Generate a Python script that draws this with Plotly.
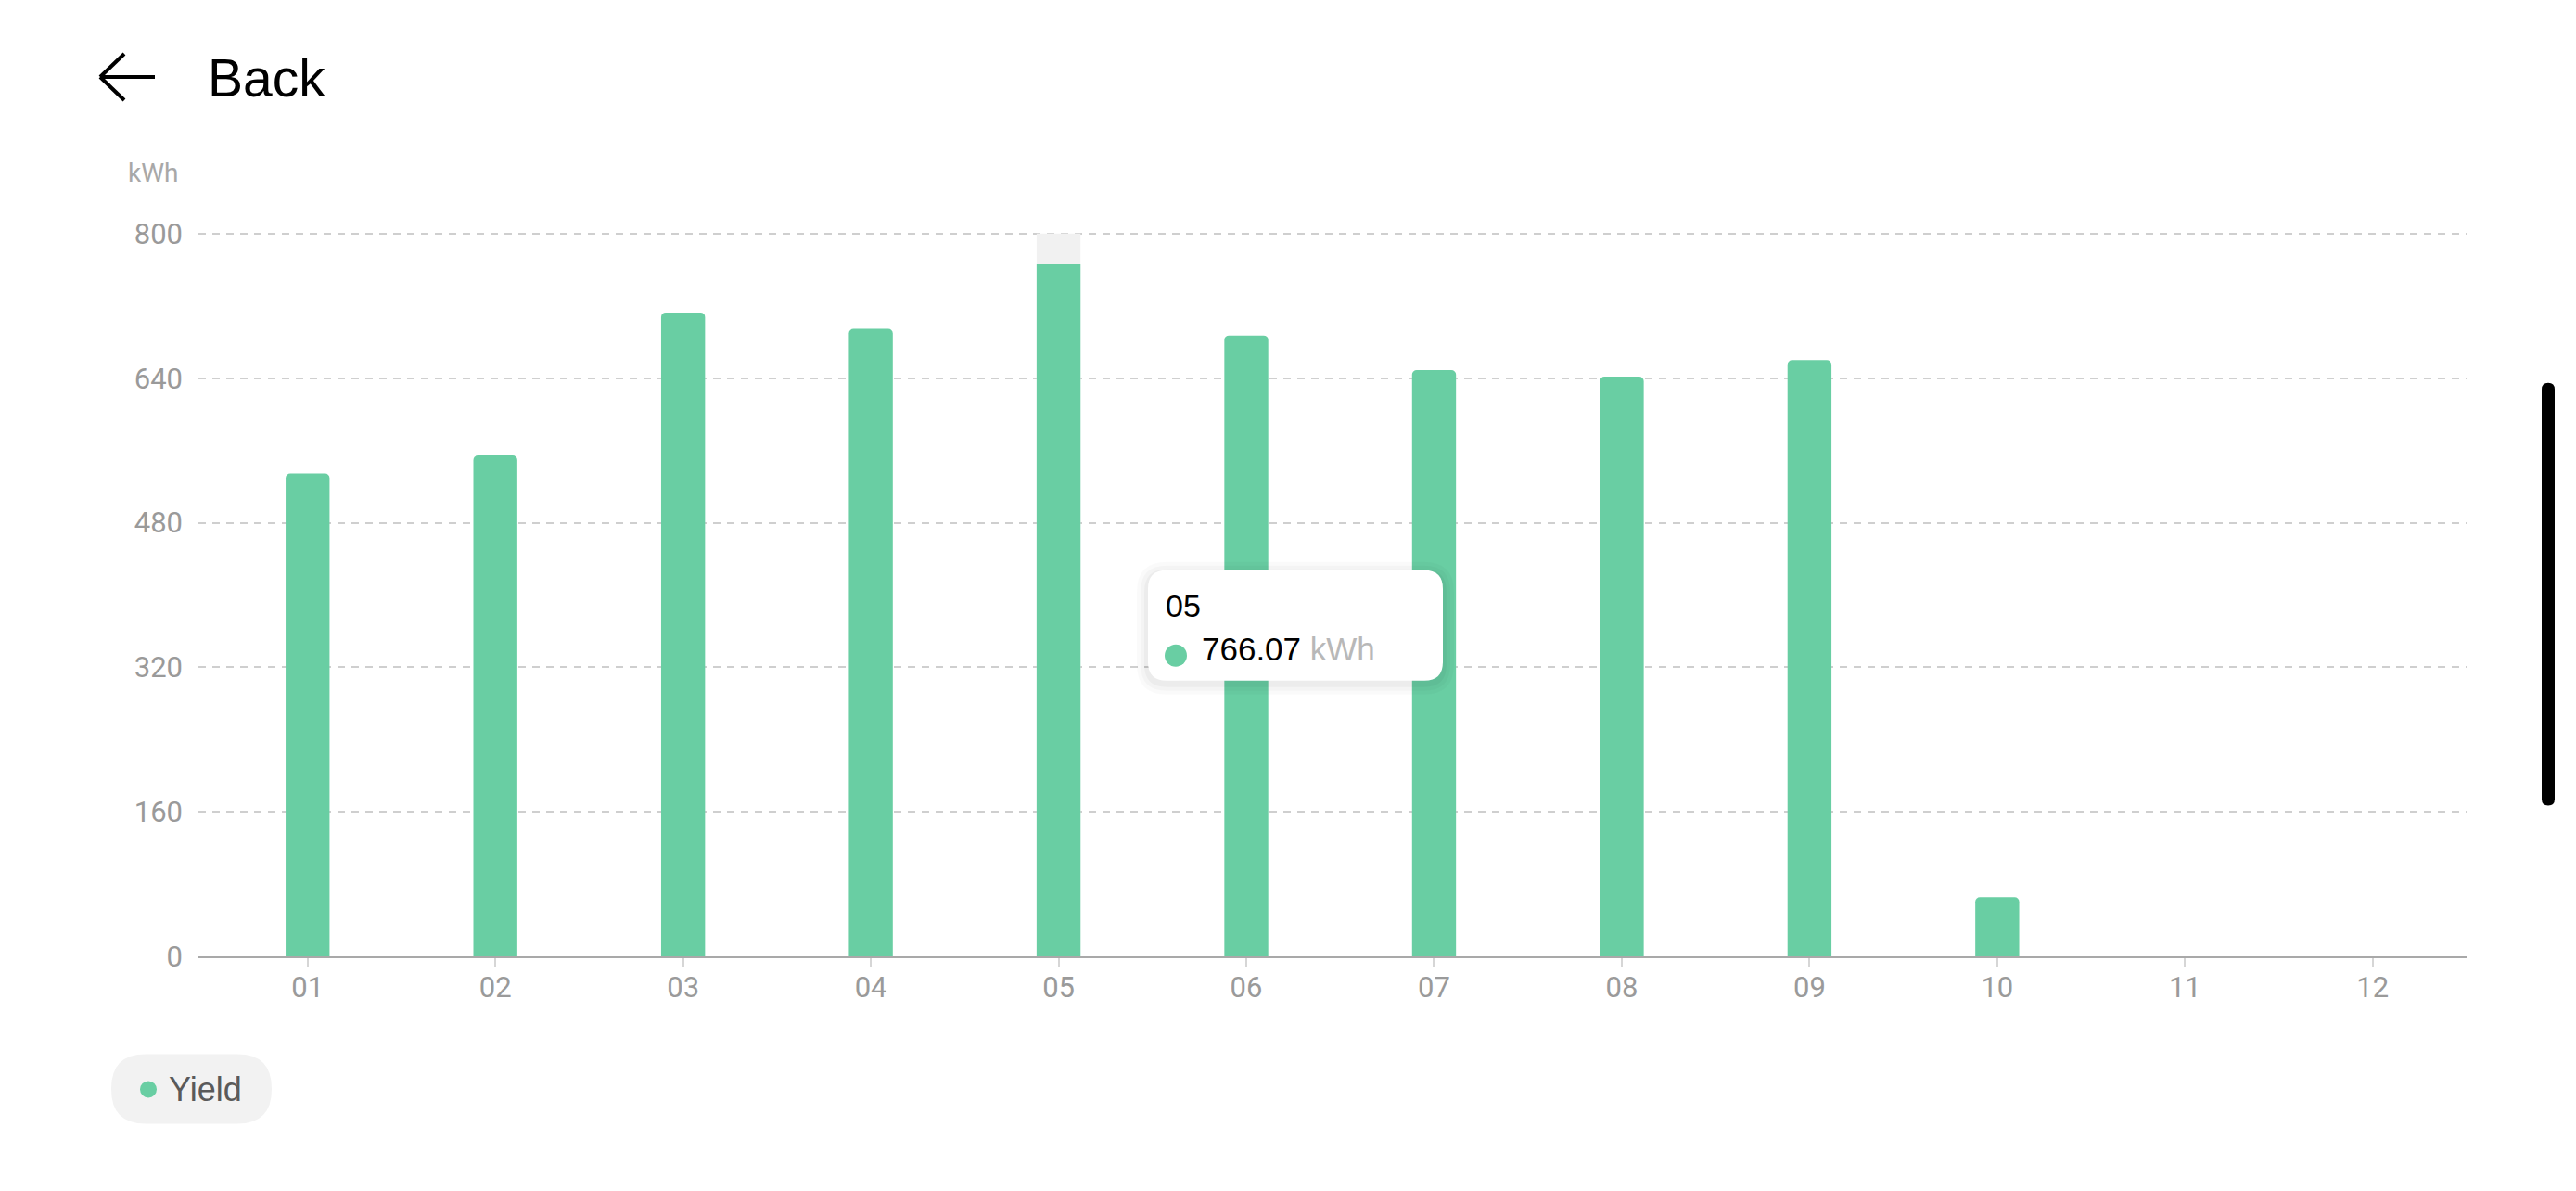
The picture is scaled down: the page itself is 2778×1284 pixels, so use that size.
import plotly.graph_objects as go

# ---- data ----
months = ["01", "02", "03", "04", "05", "06", "07", "08", "09", "10", "11", "12"]
yield_kwh = [534.5, 554.5, 712.7, 694.5, 766.07, 687.3, 649.0, 641.8, 660.0, 65.5, None, None]
y_ticks = [0, 160, 320, 480, 640, 800]
y_max = 800
highlight_month = "05"
series_name = "Yield"
unit = "kWh"

# ---- layout constants (page pixel coordinates) ----
OFF = 8  # page body margin
W, H = 2778 - OFF, 1284 - OFF
Y_TOP_PAD = 5  # axis headroom above the top tick (data units)
B = 1031.5
_s = (B - 252) / y_max
L, R, T = 214, 2660, B - (y_max + Y_TOP_PAD) * _s
GREEN = "#69CEA3"
FONT = "Liberation Sans, Arial, sans-serif"
TICKFONT = "Roboto, sans-serif"


def px(x):
    return (x - L) / (R - L)


def py(y):
    return (B - y) / (B - T)


def rrect(x0, y0, x1, y1, r):
    """rounded rect path in paper coords from page pixel coords"""
    X = lambda v: f"{px(v):.6f}"
    Y = lambda v: f"{py(v):.6f}"
    return (f"M {X(x0 + r)},{Y(y0)} L {X(x1 - r)},{Y(y0)} Q {X(x1)},{Y(y0)} {X(x1)},{Y(y0 + r)} "
            f"L {X(x1)},{Y(y1 - r)} Q {X(x1)},{Y(y1)} {X(x1 - r)},{Y(y1)} "
            f"L {X(x0 + r)},{Y(y1)} Q {X(x0)},{Y(y1)} {X(x0)},{Y(y1 - r)} "
            f"L {X(x0)},{Y(y0 + r)} Q {X(x0)},{Y(y0)} {X(x0 + r)},{Y(y0)} Z")


hi_idx = months.index(highlight_month)
highlight = [y_max if m == highlight_month else None for m in months]

fig = go.Figure()
fig.add_trace(go.Bar(x=months, y=highlight, marker=dict(color="#f1f1f1", line=dict(width=0)),
                     hoverinfo="skip", showlegend=False))
fig.add_trace(go.Bar(x=months, y=yield_kwh, name=series_name,
                     marker=dict(color=GREEN, line=dict(width=0), cornerradius=5),
                     showlegend=False))

shapes = []
# tooltip shadow + box
bx0, by0, bx1, by1 = 1238, 615, 1556, 734
for i, a in enumerate([0.018, 0.022, 0.03]):
    g = 12 - i * 4
    shapes.append(dict(type="path", xref="paper", yref="paper", layer="above",
                       path=rrect(bx0 - g, by0 - g + 3, bx1 + g, by1 + g + 3, 20 + g),
                       fillcolor=f"rgba(0,0,0,{a})", line=dict(width=0)))
shapes.append(dict(type="path", xref="paper", yref="paper", layer="above",
                   path=rrect(bx0, by0, bx1, by1, 20), fillcolor="white", line=dict(width=0)))
# tooltip dot
shapes.append(dict(type="circle", xref="paper", yref="paper", layer="above",
                   x0=px(1256), x1=px(1280), y0=py(719), y1=py(695),
                   fillcolor=GREEN, line=dict(width=0)))
# legend pill
shapes.append(dict(type="path", xref="paper", yref="paper", layer="above",
                   path=rrect(120, 1137, 293, 1212, 37), fillcolor="#f2f2f2", line=dict(width=0)))
shapes.append(dict(type="circle", xref="paper", yref="paper", layer="above",
                   x0=px(151), x1=px(169), y0=py(1184), y1=py(1166),
                   fillcolor=GREEN, line=dict(width=0)))
# back arrow
for (x0, y0, x1, y1) in [(108, 83, 167, 83), (108, 83, 134, 58), (108, 83, 134, 108)]:
    shapes.append(dict(type="line", xref="paper", yref="paper",
                       x0=px(x0), y0=py(y0), x1=px(x1), y1=py(y1),
                       line=dict(color="black", width=4)))
# scrollbar
shapes.append(dict(type="path", xref="paper", yref="paper", layer="above",
                   path=rrect(2741, 413, 2755, 869, 7), fillcolor="black", line=dict(width=0)))

annotations = [
    dict(text="Back", xref="paper", yref="paper", x=px(222), y=py(84), xanchor="left", yanchor="middle",
         showarrow=False, font=dict(family=FONT, size=57, color="black")),
    dict(text=unit, xref="paper", yref="paper", x=px(165), y=py(187), xanchor="center", yanchor="middle",
         showarrow=False, font=dict(family=TICKFONT, size=28, color="#a8a8a8")),
    dict(text=highlight_month, xref="paper", yref="paper", x=px(1255), y=py(653), xanchor="left",
         yanchor="middle", showarrow=False, font=dict(family=FONT, size=34, color="black")),
    dict(text=f"{yield_kwh[hi_idx]:.2f} <span style='color:#b8b8b8'>{unit}</span>", xref="paper",
         yref="paper", x=px(1294), y=py(700), xanchor="left", yanchor="middle", showarrow=False,
         font=dict(family=FONT, size=35, color="black")),
    dict(text=series_name, xref="paper", yref="paper", x=px(180), y=py(1175), xanchor="left",
         yanchor="middle", showarrow=False, font=dict(family=FONT, size=36, color="#5a5a5a")),
]

x_left = -0.5 - 16.5 / 202.4

fig.update_layout(
    width=W, height=H,
    margin=dict(l=L - OFF, r=W - (R - OFF), t=T - OFF, b=H - (B - OFF), pad=0),
    paper_bgcolor="white", plot_bgcolor="white",
    barmode="overlay", bargap=0.766,
    hovermode=False,
    shapes=shapes, annotations=annotations,
    xaxis=dict(type="category", categoryorder="array", categoryarray=months,
               range=[x_left, len(months) - 0.5],
               showgrid=False, showline=True, linecolor="#a9a9a9", linewidth=2,
               ticks="outside", ticklen=10, tickwidth=2, tickcolor="#d6d6d6",
               tickfont=dict(family=TICKFONT, size=31, color="#9a9a9a"),
               ticklabelstandoff=-5, zeroline=False, fixedrange=True),
    yaxis=dict(range=[0, y_max + Y_TOP_PAD], tickvals=y_ticks, showgrid=True, gridcolor="#cfcfcf",
               gridwidth=1.5, griddash="8px,7px", zeroline=False, showline=False, ticks="",
               ticklabelstandoff=16,
               tickfont=dict(family=TICKFONT, size=31, color="#9a9a9a"), fixedrange=True),
)

fig.write_html("out.html")
